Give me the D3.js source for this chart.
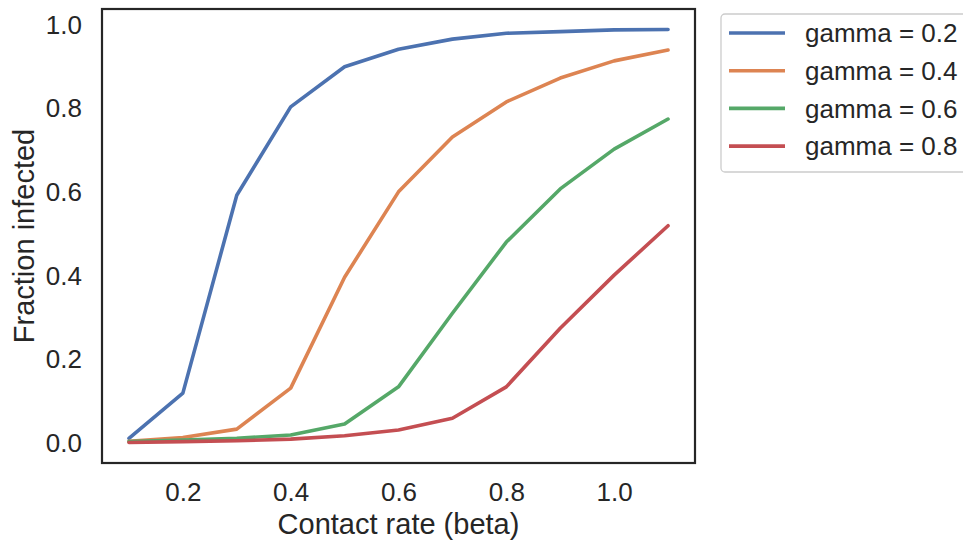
<!DOCTYPE html>
<html>
<head>
<meta charset="utf-8">
<script src="https://cdn.jsdelivr.net/npm/d3@7"></script>
<style>
  html, body { margin: 0; padding: 0; background: #fff; }
  svg { display: block; font-family: "Liberation Sans", Arial, sans-serif; }
</style>
</head>
<body>
<svg id="chart" width="963" height="543"></svg>
<script>
const beta = [0.1, 0.2, 0.3, 0.4, 0.5, 0.6, 0.7, 0.8, 0.9, 1.0, 1.1];
const gammaLabels = ["gamma = 0.2", "gamma = 0.4", "gamma = 0.6", "gamma = 0.8"];
const gamma02 = [0.012, 0.120, 0.593, 0.804, 0.900, 0.942, 0.966, 0.980, 0.984, 0.988, 0.989];
const gamma04 = [0.005, 0.014, 0.034, 0.132, 0.397, 0.601, 0.732, 0.816, 0.873, 0.914, 0.940];
const gamma06 = [0.004, 0.008, 0.012, 0.020, 0.046, 0.135, 0.311, 0.481, 0.608, 0.703, 0.775];
const gamma08 = [0.002, 0.004, 0.006, 0.010, 0.018, 0.032, 0.060, 0.135, 0.275, 0.402, 0.520];
const xTicks = [0.2, 0.4, 0.6, 0.8, 1.0];
const yTicks = [0.0, 0.2, 0.4, 0.6, 0.8, 1.0];
const colors = ["#4C72B0", "#DD8452", "#55A868", "#C44E52"];
const seriesValues = [gamma02, gamma04, gamma06, gamma08];

(function () {
const svg = d3.select("#chart");
const mLeft = 102, mRight = 695, mTop = 9, mBottom = 463;
const textColor = "#262626";
const tickFont = 26;
const labelFont = 29;

const x = d3.scaleLinear().domain([0.05, 1.15]).range([mLeft, mRight]);
const y = d3.scaleLinear().domain([-0.047, 1.038]).range([mBottom, mTop]);

// Axes (labels only, no tick marks)
const xAxis = svg.append("g").attr("transform", `translate(0,${mBottom})`)
  .call(d3.axisBottom(x).tickValues(xTicks).tickSize(0).tickPadding(20).tickFormat(d3.format(".1f")));
xAxis.select(".domain").remove();
xAxis.selectAll("text").attr("font-size", tickFont).attr("fill", textColor)
  .attr("font-family", "Liberation Sans, Arial, sans-serif");

const yAxis = svg.append("g").attr("transform", `translate(${mLeft},0)`)
  .call(d3.axisLeft(y).tickValues(yTicks).tickSize(0).tickPadding(20).tickFormat(d3.format(".1f")));
yAxis.select(".domain").remove();
yAxis.selectAll("text").attr("font-size", tickFont).attr("fill", textColor)
  .attr("font-family", "Liberation Sans, Arial, sans-serif");

// Lines
const line = d3.line().x((d, i) => x(beta[i])).y(d => y(d));
seriesValues.forEach((vals, k) => {
  svg.append("path").datum(vals)
    .attr("d", line)
    .attr("fill", "none")
    .attr("stroke", colors[k])
    .attr("stroke-width", 3.6)
    .attr("stroke-linecap", "round")
    .attr("stroke-linejoin", "round");
});

// Frame
svg.append("rect")
  .attr("x", mLeft).attr("y", mTop)
  .attr("width", mRight - mLeft).attr("height", mBottom - mTop)
  .attr("fill", "none").attr("stroke", textColor).attr("stroke-width", 2.2);

// Axis labels
svg.append("text")
  .attr("x", (mLeft + mRight) / 2).attr("y", 534)
  .attr("text-anchor", "middle")
  .attr("font-size", labelFont).attr("fill", textColor)
  .text("Contact rate (beta)");

svg.append("text")
  .attr("transform", `translate(34,${(mTop + mBottom) / 2}) rotate(-90)`)
  .attr("text-anchor", "middle")
  .attr("font-size", labelFont).attr("fill", textColor)
  .text("Fraction infected");

// Legend
const lg = svg.append("g");
lg.append("rect")
  .attr("x", 721).attr("y", 14).attr("width", 262).attr("height", 158)
  .attr("rx", 4).attr("fill", "#fff").attr("stroke", "#cccccc").attr("stroke-width", 1.3);
gammaLabels.forEach((lab, k) => {
  const yy = 33 + k * 37.7;
  lg.append("line").attr("x1", 729).attr("x2", 785).attr("y1", yy).attr("y2", yy)
    .attr("stroke", colors[k]).attr("stroke-width", 3.6);
  lg.append("text").attr("x", 805).attr("y", yy).attr("dy", "0.35em")
    .attr("font-size", tickFont).attr("fill", textColor).text(lab);
});
})();
</script>
</body>
</html>
